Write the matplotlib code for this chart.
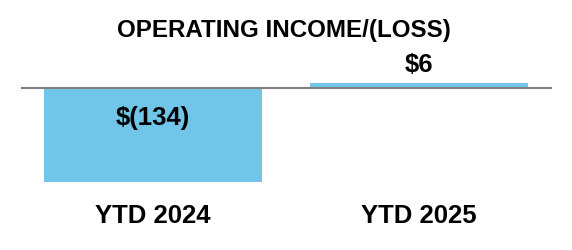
import matplotlib
matplotlib.use('Agg')
import matplotlib.pyplot as plt

categories = ['YTD 2024', 'YTD 2025']
values = [-134, 6]
value_labels = ['$(134)', '$6']
title = 'OPERATING INCOME/(LOSS)'

plt.rcParams['font.family'] = ['Liberation Sans', 'DejaVu Sans']

W, H = 572, 250
fig = plt.figure(figsize=(W / 100, H / 100), dpi=100)
# axes: x from 21px to 552px, y from bar bottom (68px from bottom) to 200px
bottom_px, top_px = 68, 200
ax = fig.add_axes([21 / W, bottom_px / H, 531 / W, (top_px - bottom_px) / H])
zero_px = 162.5
scale = (zero_px - bottom_px) / 134.0
ax.set_ylim(-134, (top_px - zero_px) / scale)
ax.set_xlim(-0.496, 1.5)

ax.bar(range(len(values)), values, width=0.82, color='#71C5E8', zorder=2)
ax.axhline(0, color='#7f7f7f', lw=1.5, zorder=3)

for i, (v, lab) in enumerate(zip(values, value_labels)):
    if v < 0:
        ax.annotate(lab, (i, 0), xytext=(0, -30), textcoords='offset pixels',
                    ha='center', va='center', fontsize=18.5, fontweight='bold')
    else:
        ax.annotate(lab, (i, v), xytext=(0, 18), textcoords='offset pixels',
                    ha='center', va='center', fontsize=18.5, fontweight='bold')

ax.set_xticks(range(len(categories)))
ax.set_xticklabels(categories, fontsize=18.5, fontweight='bold')
ax.tick_params(axis='x', length=0, pad=16)
ax.set_yticks([])
for s in ax.spines.values():
    s.set_visible(False)
ax.patch.set_alpha(0)

fig.text(284 / W, 1 - 30 / H, title, ha='center', va='center',
         fontsize=17.4, fontweight='bold')

fig.savefig('out.png', dpi=100)
